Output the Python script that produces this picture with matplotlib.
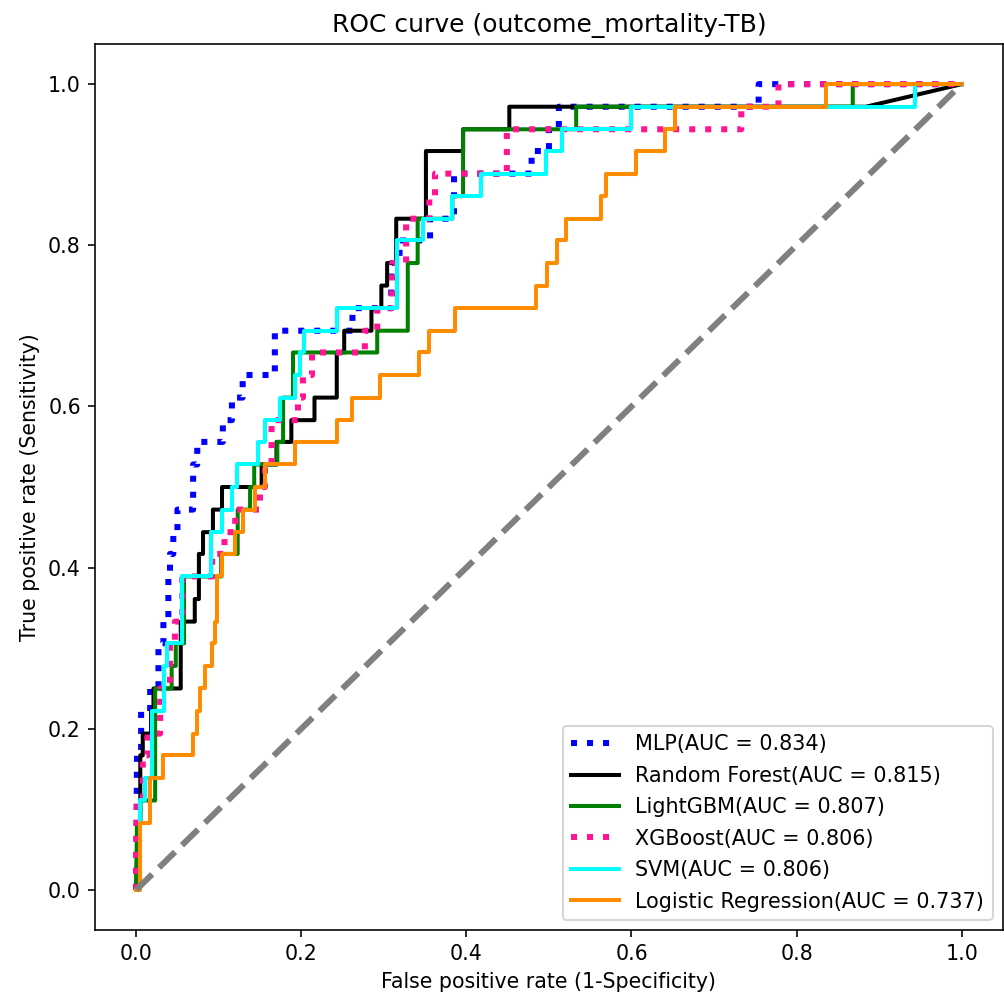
import matplotlib
matplotlib.use("Agg")
import matplotlib.pyplot as plt

# ROC points (fpr, tpr), one list per model
mlp_pts = [(0, 0), (0.001, 0.167), (0.006, 0.167), (0.006, 0.222), (0.017, 0.222), (0.017, 0.25),
           (0.027, 0.25), (0.027, 0.306), (0.033, 0.306), (0.033, 0.333), (0.039, 0.333), (0.039, 0.389),
           (0.041, 0.389), (0.041, 0.417), (0.045, 0.417), (0.045, 0.444), (0.050, 0.444), (0.050, 0.472),
           (0.069, 0.472), (0.069, 0.528), (0.074, 0.528), (0.074, 0.556), (0.105, 0.556), (0.105, 0.583),
           (0.116, 0.583), (0.116, 0.611), (0.129, 0.611), (0.129, 0.639), (0.168, 0.639), (0.168, 0.694),
           (0.262, 0.694), (0.262, 0.722), (0.309, 0.722), (0.309, 0.778), (0.319, 0.778), (0.319, 0.806),
           (0.356, 0.806), (0.356, 0.833), (0.385, 0.833), (0.385, 0.889), (0.479, 0.889), (0.479, 0.917),
           (0.500, 0.917), (0.500, 0.944), (0.512, 0.944), (0.512, 0.972), (0.754, 0.972), (0.754, 1.0),
           (1.0, 1.0)]

rf_pts = [(0, 0), (0.002, 0.083), (0.005, 0.083), (0.005, 0.167), (0.008, 0.167), (0.008, 0.194),
          (0.018, 0.194), (0.018, 0.222), (0.021, 0.222), (0.021, 0.25), (0.054, 0.25), (0.054, 0.333),
          (0.071, 0.333), (0.071, 0.361), (0.076, 0.361), (0.076, 0.417), (0.081, 0.417), (0.081, 0.444),
          (0.093, 0.444), (0.093, 0.472), (0.104, 0.472), (0.104, 0.5), (0.152, 0.5), (0.152, 0.528),
          (0.170, 0.528), (0.170, 0.556), (0.188, 0.556), (0.188, 0.583), (0.216, 0.583), (0.216, 0.611),
          (0.243, 0.611), (0.243, 0.667), (0.252, 0.667), (0.252, 0.694), (0.285, 0.694), (0.285, 0.722),
          (0.297, 0.722), (0.297, 0.75), (0.304, 0.75), (0.304, 0.778), (0.315, 0.778), (0.315, 0.833),
          (0.351, 0.833), (0.351, 0.917), (0.396, 0.917), (0.396, 0.944), (0.452, 0.944), (0.452, 0.972),
          (0.884, 0.972), (1.0, 1.0)]

lgbm_pts = [(0, 0), (0.001, 0.083), (0.005, 0.083), (0.005, 0.111), (0.023, 0.111), (0.023, 0.25),
            (0.043, 0.25), (0.043, 0.278), (0.048, 0.278), (0.048, 0.306), (0.058, 0.306), (0.058, 0.389),
            (0.103, 0.389), (0.103, 0.417), (0.123, 0.417), (0.123, 0.472), (0.138, 0.472), (0.138, 0.5),
            (0.143, 0.5), (0.143, 0.528), (0.171, 0.528), (0.171, 0.556), (0.178, 0.556), (0.178, 0.611),
            (0.190, 0.611), (0.190, 0.667), (0.292, 0.667), (0.292, 0.694), (0.329, 0.694), (0.329, 0.778),
            (0.341, 0.778), (0.341, 0.833), (0.383, 0.833), (0.383, 0.861), (0.396, 0.861), (0.396, 0.944),
            (0.533, 0.944), (0.533, 0.972), (0.868, 0.972), (0.868, 1.0), (1.0, 1.0)]

xgb_pts = [(0, 0), (0.001, 0.111), (0.008, 0.111), (0.008, 0.167), (0.014, 0.167), (0.014, 0.194),
           (0.029, 0.194), (0.029, 0.25), (0.041, 0.25), (0.041, 0.306), (0.047, 0.306), (0.047, 0.333),
           (0.056, 0.333), (0.056, 0.389), (0.092, 0.389), (0.092, 0.417), (0.107, 0.417), (0.107, 0.444),
           (0.120, 0.444), (0.120, 0.472), (0.150, 0.472), (0.150, 0.5), (0.156, 0.5), (0.156, 0.528),
           (0.164, 0.528), (0.164, 0.583), (0.196, 0.583), (0.196, 0.611), (0.202, 0.611), (0.202, 0.639),
           (0.213, 0.639), (0.213, 0.667), (0.277, 0.667), (0.277, 0.694), (0.292, 0.694), (0.292, 0.722),
           (0.310, 0.722), (0.310, 0.778), (0.327, 0.778), (0.327, 0.833), (0.355, 0.833), (0.355, 0.861),
           (0.362, 0.861), (0.362, 0.889), (0.449, 0.889), (0.449, 0.944), (0.733, 0.944), (0.733, 0.972),
           (0.778, 0.972), (0.778, 1.0), (1.0, 1.0)]

svm_pts = [(0, 0), (0.005, 0), (0.005, 0.111), (0.011, 0.111), (0.011, 0.139), (0.019, 0.139),
           (0.019, 0.222), (0.034, 0.222), (0.034, 0.278), (0.037, 0.278), (0.037, 0.306), (0.056, 0.306),
           (0.056, 0.389), (0.091, 0.389), (0.091, 0.444), (0.104, 0.444), (0.104, 0.472), (0.116, 0.472),
           (0.116, 0.5), (0.122, 0.5), (0.122, 0.528), (0.147, 0.528), (0.147, 0.556), (0.156, 0.556),
           (0.156, 0.583), (0.174, 0.583), (0.174, 0.611), (0.192, 0.611), (0.192, 0.639), (0.198, 0.639),
           (0.198, 0.667), (0.203, 0.667), (0.203, 0.694), (0.243, 0.694), (0.243, 0.722), (0.316, 0.722),
           (0.316, 0.806), (0.347, 0.806), (0.347, 0.833), (0.383, 0.833), (0.383, 0.861), (0.418, 0.861),
           (0.418, 0.889), (0.496, 0.889), (0.496, 0.917), (0.516, 0.917), (0.516, 0.944), (0.600, 0.944),
           (0.600, 0.972), (0.943, 0.972), (0.943, 1.0), (1.0, 1.0)]

lr_pts = [(0, 0), (0.005, 0), (0.005, 0.083), (0.017, 0.083), (0.017, 0.139), (0.033, 0.139),
          (0.033, 0.167), (0.069, 0.167), (0.069, 0.194), (0.074, 0.194), (0.074, 0.222), (0.077, 0.222),
          (0.077, 0.25), (0.083, 0.25), (0.083, 0.278), (0.092, 0.278), (0.092, 0.306), (0.095, 0.306),
          (0.095, 0.333), (0.098, 0.333), (0.098, 0.389), (0.104, 0.389), (0.104, 0.417), (0.120, 0.417),
          (0.120, 0.444), (0.130, 0.444), (0.130, 0.472), (0.144, 0.472), (0.144, 0.5), (0.156, 0.5),
          (0.156, 0.528), (0.192, 0.528), (0.192, 0.556), (0.243, 0.556), (0.243, 0.583), (0.261, 0.583),
          (0.261, 0.611), (0.295, 0.611), (0.295, 0.639), (0.343, 0.639), (0.343, 0.667), (0.355, 0.667),
          (0.355, 0.694), (0.386, 0.694), (0.386, 0.722), (0.484, 0.722), (0.484, 0.75), (0.498, 0.75),
          (0.498, 0.778), (0.510, 0.778), (0.510, 0.806), (0.521, 0.806), (0.521, 0.833), (0.563, 0.833),
          (0.563, 0.861), (0.569, 0.861), (0.569, 0.889), (0.606, 0.889), (0.606, 0.917), (0.641, 0.917),
          (0.641, 0.944), (0.653, 0.944), (0.653, 0.972), (0.836, 0.972), (0.836, 1.0), (1.0, 1.0)]

labels = ["MLP(AUC = 0.834)", "Random Forest(AUC = 0.815)", "LightGBM(AUC = 0.807)",
          "XGBoost(AUC = 0.806)", "SVM(AUC = 0.806)", "Logistic Regression(AUC = 0.737)"]

curves = [mlp_pts, rf_pts, lgbm_pts, xgb_pts, svm_pts, lr_pts]
colors = ['blue', 'black', 'green', 'deeppink', 'cyan', 'darkorange']
styles = [':', '-', '-', ':', '-', '-']
widths = [3, 2, 2, 3, 2, 2]

plt.rcParams['font.size'] = 10.2

fig = plt.figure(figsize=(1004 / 145, 997 / 145), dpi=145)
ax = fig.add_axes([0.0945, 0.067, 0.9045, 0.889])

for pts, lab, c, ls, lw in zip(curves, labels, colors, styles, widths):
    x = [p[0] for p in pts]
    y = [p[1] for p in pts]
    ax.plot(x, y, color=c, linestyle=ls, linewidth=lw, label=lab)

ax.plot([0, 1], [0, 1], color='gray', linestyle='--', linewidth=3)

ax.set_xlim(-0.05, 1.05)
ax.set_ylim(-0.05, 1.05)
ax.set_xlabel('False positive rate (1-Specificity)')
ax.set_ylabel('True positive rate (Sensitivity)')
ax.set_title('ROC curve (outcome_mortality-TB)', fontsize=12.4)
ax.legend(loc='lower right', fontsize=10.3, labelspacing=0.55, handlelength=2.3)

fig.savefig('out.png', dpi=145)
